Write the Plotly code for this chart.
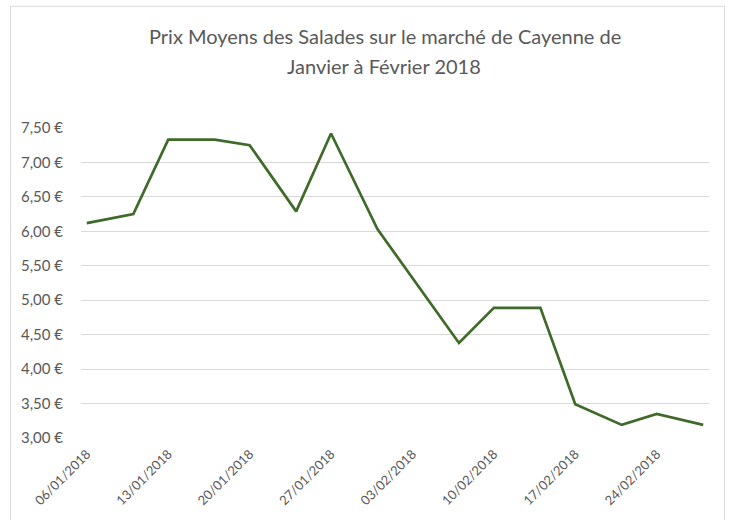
import plotly.graph_objects as go

# Data
dates = ["2018-01-06", "2018-01-10", "2018-01-13", "2018-01-17", "2018-01-20",
         "2018-01-24", "2018-01-27", "2018-01-31", "2018-02-07", "2018-02-10",
         "2018-02-14", "2018-02-17", "2018-02-21", "2018-02-24", "2018-02-28"]
prices = [6.12, 6.25, 7.33, 7.33, 7.25, 6.29, 7.42, 6.03, 4.38, 4.89,
          4.89, 3.49, 3.19, 3.35, 3.19]
tick_dates = ["2018-01-06", "2018-01-13", "2018-01-20", "2018-01-27",
              "2018-02-03", "2018-02-10", "2018-02-17", "2018-02-24"]
tick_labels = ["06/01/2018", "13/01/2018", "20/01/2018", "27/01/2018",
               "03/02/2018", "10/02/2018", "17/02/2018", "24/02/2018"]
title_lines = ["Prix Moyens des Salades sur le marché de Cayenne de",
               "Janvier à Février 2018"]

FONT = "Lato"
GRAY = "#595959"

fig = go.Figure()
fig.add_trace(go.Scatter(
    x=dates, y=prices, mode="lines",
    line=dict(color="#3F6A2A", width=2.7),
    hoverinfo="skip", showlegend=False,
))

W, H = 729, 520
L, R, T, B = 81, 20, 128, 80
pw, ph = W - L - R, H - T - B

def px_to_paper_x(px):
    return (px - L) / pw

def px_to_paper_y(py):
    return (H - B - py) / ph

fig.update_layout(
    width=W, height=H,
    margin=dict(l=L, r=R, t=T, b=B, pad=0),
    paper_bgcolor="white", plot_bgcolor="white",
    separators=", ",
    font=dict(family=FONT, color=GRAY),
    xaxis=dict(
        type="date",
        range=["2018-01-05 12:00", "2018-02-28 12:00"],
        tickmode="array", tickvals=tick_dates, ticktext=tick_labels,
        tickangle=-45, showgrid=False, zeroline=False, showline=False,
        ticks="", ticklabelstandoff=5,
        tickfont=dict(family=FONT, size=13, color=GRAY),
    ),
    yaxis=dict(
        range=[3, 7.5], tickmode="linear", tick0=3, dtick=0.5,
        tickformat=".2f", ticksuffix=" €",
        showgrid=True, gridcolor="#D9D9D9", gridwidth=1,
        zeroline=False, showline=False, ticks="",
        ticklabelstandoff=17,
        tickfont=dict(family=FONT, size=15, color=GRAY),
    ),
    shapes=[dict(
        type="rect", xref="paper", yref="paper", layer="below",
        x0=px_to_paper_x(10.5), x1=px_to_paper_x(724.5),
        y0=px_to_paper_y(530), y1=px_to_paper_y(5.5),
        line=dict(color="#D9D9D9", width=1), fillcolor="rgba(0,0,0,0)",
    )],
    annotations=[
        dict(text=title_lines[0], xref="paper", yref="paper",
             x=px_to_paper_x(385), y=px_to_paper_y(35), xanchor="center",
             yanchor="middle", showarrow=False,
             font=dict(family=FONT, size=20, color=GRAY)),
        dict(text=title_lines[1], xref="paper", yref="paper",
             x=px_to_paper_x(384), y=px_to_paper_y(66), xanchor="center",
             yanchor="middle", showarrow=False,
             font=dict(family=FONT, size=20, color=GRAY)),
    ],
)

fig.write_html("out.html", config={"displayModeBar": False},
               post_script="document.body.style.margin='0';")
